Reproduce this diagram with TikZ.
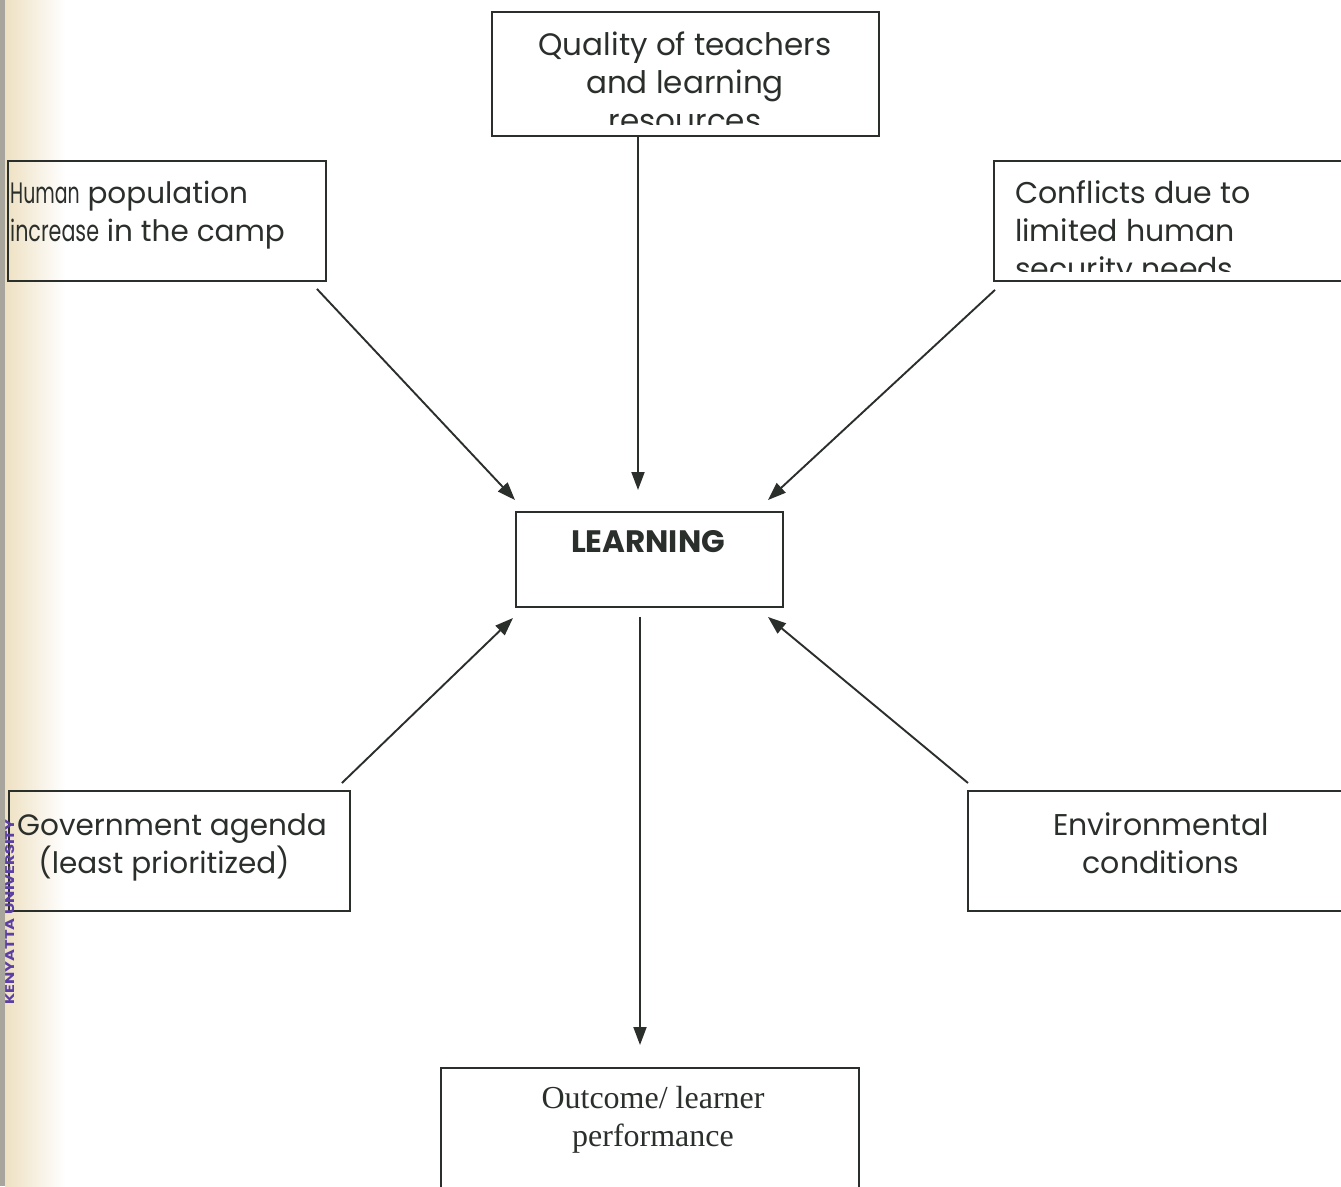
\documentclass[tikz,border=0pt]{standalone}
\usepackage{fontspec}
\setmainfont{Poppins}
\newfontfamily\timesf{Liberation Serif}
\usetikzlibrary{arrows.meta}
\definecolor{ink}{HTML}{2B2F2B}
\definecolor{paperedge}{HTML}{EEE0C2}
\definecolor{edgegray}{HTML}{A8A69C}
\definecolor{stampcol}{HTML}{5B3FA6}
\tikzset{
  boxstyle/.style={draw=ink, line width=1.9pt, rectangle, inner sep=0pt, anchor=north west},
  lbl/.style={text=ink, font=\fontsize{30}{38}\selectfont, inner sep=0pt, anchor=base},
  lblleft/.style={lbl, anchor=base west},
  lblbold/.style={lbl, font=\fontsize{31}{38}\selectfont\bfseries},
  lblserif/.style={lbl, font=\timesf\fontsize{32}{38}\selectfont},
  arr/.style={draw=ink, line width=1.9pt, -{Triangle[length=18pt,width=13pt]}},
}
\newcommand{\squeezed}[2]{\scalebox{#1}[1]{#2}}
\begin{document}
\begin{tikzpicture}[x=1pt,y=-1pt]
\useasboundingbox (0,0) rectangle (1341,1186);
\fill[white] (0,0) rectangle (1341,1186);
% scanned page edge
\shade[left color=paperedge, right color=white] (5,0) rectangle (65,1186);
\fill[edgegray] (0,0) rectangle (5,1186);

% boxes
\node[boxstyle, minimum width=387pt, minimum height=124pt] (qual) at (491,11) {};
\node[boxstyle, minimum width=318pt, minimum height=120pt] (human) at (7,160) {};
\node[boxstyle, minimum width=360pt, minimum height=120pt] (conf) at (993,160) {};
\node[boxstyle, minimum width=267pt, minimum height=95pt] (learn) at (515,511) {};
\node[boxstyle, minimum width=341pt, minimum height=120pt] (gov) at (8,790) {};
\node[boxstyle, minimum width=390pt, minimum height=120pt] (env) at (967,790) {};
\node[boxstyle, minimum width=418pt, minimum height=130pt] (out) at (440,1067) {};

% texts
\begin{scope}
  \clip (493,13) rectangle (876,124);
  \node[lbl, font=\fontsize{31}{38}\selectfont] (q1) at (685,55) {Quality of teachers};
  \node[lbl, font=\fontsize{31}{38}\selectfont] (q2) at (685,93) {and learning};
  \node[lbl, font=\fontsize{31}{38}\selectfont] (q3) at (685,131) {resources};
\end{scope}
\node[lblleft, font=\fontsize{29.5}{38}\selectfont] (h1) at (10,203) {\squeezed{0.64}{Human} population};
\node[lblleft, font=\fontsize{29.5}{38}\selectfont] (h2) at (10,241) {\squeezed{0.70}{increase} in the camp};
\begin{scope}
  \clip (995,162) rectangle (1341,271);
  \node[lblleft] (c1) at (1015,203) {Conflicts due to};
  \node[lblleft] (c2) at (1015,241) {limited human};
  \node[lblleft] (c3) at (1015,279) {security needs};
\end{scope}
\node[lblbold] (l1) at (648,552) {LEARNING};
\node[lbl, font=\fontsize{29.5}{38}\selectfont] (g1) at (172,835) {Government agenda};
\node[lbl, font=\fontsize{29.5}{38}\selectfont] (g2) at (164,873) {(least prioritized)};
\node[lbl] (e1) at (1161,835) {Environmental};
\node[lbl] (e2) at (1161,873) {conditions};
\node[lblserif] (o1) at (653,1108) {Outcome/ learner};
\node[lblserif] (o2) at (653,1146) {performance};

% stamp
\node[rotate=90, text=stampcol, inner sep=0pt] (stamp) at (10,912)
  {\resizebox{185pt}{9pt}{\bfseries KENYATTA UNIVERSITY}};

% arrow tips
\coordinate (tq) at (638,490);
\coordinate (th) at (515,500);
\coordinate (tc) at (768,500);
\coordinate (tg) at (513,618);
\coordinate (te) at (768,617);
\coordinate (to) at (640,1045);

% connectors
\draw[arr] (qual.south -| tq) -- (tq);
\draw[arr] ([shift={(-10,7)}]human.south east) -- (th);
\draw[arr] ([shift={(2,8)}]conf.south west) -- (tc);
\draw[arr] ([shift={(-9,-7)}]gov.north east) -- (tg);
\draw[arr] ([shift={(1,-7)}]env.north west) -- (te);
\draw[arr] (learn.south -| to) ++(0,9) -- (to);
\end{tikzpicture}
\end{document}
